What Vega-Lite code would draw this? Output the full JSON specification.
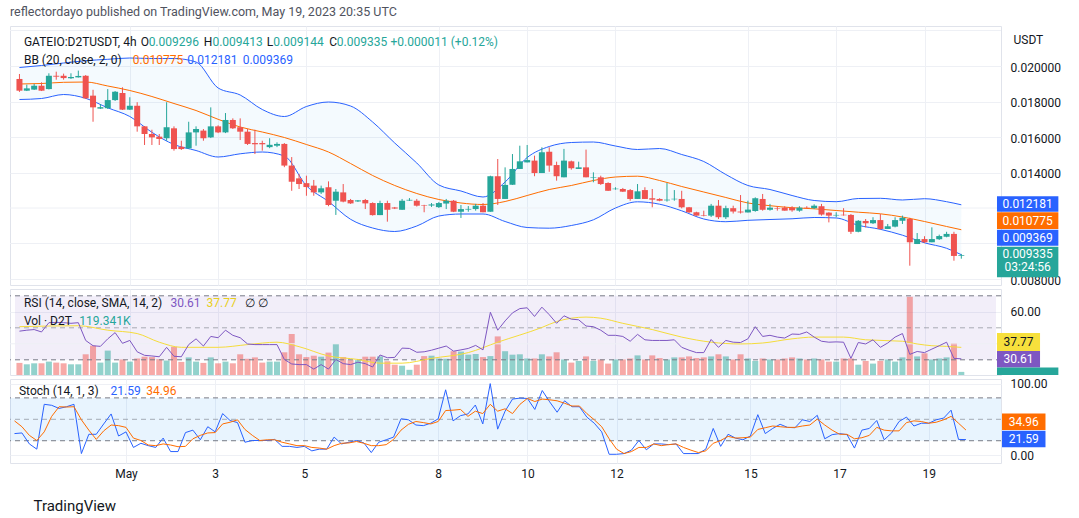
{
  "$schema": "https://vega.github.io/schema/vega-lite/v6.json",
  "padding": {"left": 9, "top": 6, "right": 4, "bottom": 4},
  "title": {"text": "reflectordayo published on TradingView.com, May 19, 2023 20:35 UTC", "anchor": "start", "font": "Roboto", "fontSize": 12.5, "fontWeight": "normal", "color": "#50535e", "offset": 7, "dx": 1},
  "config": {
    "font": "Roboto",
    "view": {"stroke": "#e0e3eb", "strokeWidth": 1},
    "axis": {"domain": false, "ticks": false, "gridColor": "#eef0f5", "labelFont": "Roboto", "labelFontSize": 12, "labelColor": "#131722", "titleFont": "Roboto"},
    "text": {"font": "Roboto", "fontSize": 12}
  },
  "datasets": {
    "one": [{}],
    "candles": [
      {"t":-60,"o":0.01927,"h":0.01955,"l":0.01854,"c":0.01861,"v":466,"rsi":47.9,"k":30,"sd":47.8},
      {"t":-56,"o":0.01861,"h":0.01895,"l":0.01859,"c":0.01874,"v":412,"rsi":48.5,"k":30.9,"sd":39.6},
      {"t":-52,"o":0.01867,"h":0.01899,"l":0.01865,"c":0.01889,"v":450,"rsi":48.9,"k":15.5,"sd":27.5},
      {"t":-48,"o":0.01889,"h":0.01908,"l":0.01859,"c":0.01861,"v":450,"rsi":47.4,"k":8.2,"sd":20.3},
      {"t":-44,"o":0.0187,"h":0.01959,"l":0.01868,"c":0.01945,"v":516,"rsi":53.2,"k":71,"sd":32.4},
      {"t":-40,"o":0.01945,"h":0.01968,"l":0.01923,"c":0.0194,"v":477,"rsi":53.4,"k":69.6,"sd":54.1},
      {"t":-36,"o":0.01945,"h":0.01957,"l":0.01923,"c":0.01932,"v":450,"rsi":53.2,"k":65.2,"sd":67.6},
      {"t":-32,"o":0.01931,"h":0.01959,"l":0.01927,"c":0.01938,"v":412,"rsi":52.8,"k":67.6,"sd":67.2},
      {"t":-28,"o":0.01936,"h":0.01974,"l":0.01935,"c":0.01944,"v":412,"rsi":53.2,"k":71,"sd":67.6},
      {"t":-24,"o":0.01945,"h":0.01949,"l":0.01814,"c":0.01818,"v":797,"rsi":42.1,"k":2,"sd":49.3},
      {"t":-20,"o":0.01833,"h":0.01866,"l":0.01686,"c":0.01767,"v":1128,"rsi":38.8,"k":29,"sd":34.8},
      {"t":-16,"o":0.0176,"h":0.01786,"l":0.01758,"c":0.01768,"v":477,"rsi":38.4,"k":29,"sd":21.8},
      {"t":-12,"o":0.01762,"h":0.0187,"l":0.01758,"c":0.01808,"v":939,"rsi":43.1,"k":43.5,"sd":33.8},
      {"t":-8,"o":0.01808,"h":0.01859,"l":0.01803,"c":0.01855,"v":477,"rsi":47,"k":57.5,"sd":42},
      {"t":-4,"o":0.01848,"h":0.0188,"l":0.01752,"c":0.01754,"v":597,"rsi":40.3,"k":26.6,"sd":41.1},
      {"t":0,"o":0.01754,"h":0.01824,"l":0.01752,"c":0.01776,"v":516,"rsi":42.1,"k":32.4,"sd":38.7},
      {"t":4,"o":0.01776,"h":0.01796,"l":0.0163,"c":0.0166,"v":635,"rsi":35,"k":10.6,"sd":23.7},
      {"t":8,"o":0.0166,"h":0.01662,"l":0.01555,"c":0.01617,"v":705,"rsi":32.8,"k":16.4,"sd":20.3},
      {"t":12,"o":0.01617,"h":0.01641,"l":0.01555,"c":0.01598,"v":689,"rsi":32.4,"k":13.1,"sd":14},
      {"t":16,"o":0.01602,"h":0.01617,"l":0.01555,"c":0.01589,"v":608,"rsi":31.9,"k":10.6,"sd":13.1},
      {"t":20,"o":0.01593,"h":0.01796,"l":0.01579,"c":0.01655,"v":558,"rsi":37.8,"k":23.7,"sd":15.5},
      {"t":24,"o":0.01649,"h":0.0166,"l":0.01523,"c":0.01532,"v":1086,"rsi":32.2,"k":4.8,"sd":14},
      {"t":28,"o":0.01545,"h":0.01579,"l":0.01527,"c":0.01532,"v":504,"rsi":31.9,"k":4.8,"sd":11.6},
      {"t":32,"o":0.01536,"h":0.01686,"l":0.01533,"c":0.01626,"v":678,"rsi":39.5,"k":31.4,"sd":12.1},
      {"t":36,"o":0.01626,"h":0.0166,"l":0.01551,"c":0.01645,"v":516,"rsi":43.1,"k":34.8,"sd":22.7},
      {"t":40,"o":0.01636,"h":0.01645,"l":0.01579,"c":0.01593,"v":466,"rsi":38.6,"k":21.3,"sd":27.5},
      {"t":44,"o":0.01598,"h":0.01767,"l":0.01594,"c":0.0166,"v":678,"rsi":44.6,"k":39.6,"sd":30.9},
      {"t":48,"o":0.0166,"h":0.01666,"l":0.01622,"c":0.01626,"v":450,"rsi":43.8,"k":32.4,"sd":31.4},
      {"t":52,"o":0.01626,"h":0.01735,"l":0.01622,"c":0.01696,"v":516,"rsi":48.5,"k":58,"sd":43.5},
      {"t":56,"o":0.01696,"h":0.01705,"l":0.01645,"c":0.01649,"v":450,"rsi":45.3,"k":48.3,"sd":45.9},
      {"t":60,"o":0.01655,"h":0.01705,"l":0.01583,"c":0.0163,"v":797,"rsi":43.8,"k":45.4,"sd":49.3},
      {"t":64,"o":0.0163,"h":0.01645,"l":0.01555,"c":0.01561,"v":624,"rsi":39.9,"k":17.9,"sd":35.8},
      {"t":68,"o":0.01566,"h":0.01641,"l":0.01504,"c":0.01559,"v":678,"rsi":39.5,"k":20.3,"sd":27.5},
      {"t":72,"o":0.01566,"h":0.01579,"l":0.01523,"c":0.01559,"v":477,"rsi":39.5,"k":20.3,"sd":20.3},
      {"t":76,"o":0.01543,"h":0.01593,"l":0.01537,"c":0.01556,"v":516,"rsi":39.5,"k":20.3,"sd":21.3},
      {"t":80,"o":0.01551,"h":0.0157,"l":0.01543,"c":0.01561,"v":516,"rsi":39.5,"k":21.8,"sd":21.3},
      {"t":84,"o":0.01561,"h":0.01566,"l":0.0143,"c":0.01439,"v":874,"rsi":30.2,"k":12.1,"sd":17.9},
      {"t":88,"o":0.01439,"h":0.01487,"l":0.01297,"c":0.01348,"v":1579,"rsi":27.4,"k":12.1,"sd":15.5},
      {"t":92,"o":0.01367,"h":0.01392,"l":0.01307,"c":0.01335,"v":797,"rsi":27,"k":10.6,"sd":13.1},
      {"t":96,"o":0.0134,"h":0.01382,"l":0.01269,"c":0.01318,"v":689,"rsi":27,"k":12.1,"sd":13.1},
      {"t":100,"o":0.01326,"h":0.01358,"l":0.01269,"c":0.01288,"v":743,"rsi":24.2,"k":5.8,"sd":10.6},
      {"t":104,"o":0.01288,"h":0.01326,"l":0.01279,"c":0.01311,"v":705,"rsi":27,"k":8.2,"sd":9.7},
      {"t":108,"o":0.01317,"h":0.0135,"l":0.0121,"c":0.01217,"v":862,"rsi":24.2,"k":8.2,"sd":8.2},
      {"t":112,"o":0.01241,"h":0.01307,"l":0.01161,"c":0.01292,"v":1194,"rsi":30.2,"k":25.1,"sd":13.1},
      {"t":116,"o":0.01288,"h":0.01335,"l":0.01232,"c":0.01236,"v":689,"rsi":27.6,"k":15.5,"sd":16.4},
      {"t":120,"o":0.01245,"h":0.01251,"l":0.01223,"c":0.01226,"v":570,"rsi":27,"k":17.9,"sd":16.9},
      {"t":124,"o":0.01237,"h":0.01245,"l":0.01234,"c":0.01243,"v":570,"rsi":28.5,"k":20.3,"sd":18.9},
      {"t":128,"o":0.01245,"h":0.01251,"l":0.01194,"c":0.01226,"v":705,"rsi":27.6,"k":16.9,"sd":16.4},
      {"t":132,"o":0.01228,"h":0.01232,"l":0.01157,"c":0.0116,"v":705,"rsi":25.5,"k":3.4,"sd":13.1},
      {"t":136,"o":0.0116,"h":0.01241,"l":0.0116,"c":0.01228,"v":716,"rsi":33,"k":17.9,"sd":13.1},
      {"t":140,"o":0.01228,"h":0.01241,"l":0.01123,"c":0.0119,"v":531,"rsi":31.3,"k":21.3,"sd":14.5},
      {"t":144,"o":0.01203,"h":0.01206,"l":0.01194,"c":0.01197,"v":397,"rsi":31.5,"k":25.1,"sd":21.8},
      {"t":148,"o":0.0119,"h":0.01251,"l":0.0119,"c":0.01241,"v":358,"rsi":37.3,"k":50.7,"sd":34.8},
      {"t":152,"o":0.01242,"h":0.01256,"l":0.0124,"c":0.01246,"v":200,"rsi":37.1,"k":49.3,"sd":43},
      {"t":156,"o":0.01241,"h":0.01251,"l":0.01208,"c":0.01213,"v":397,"rsi":34.7,"k":42,"sd":46.9},
      {"t":160,"o":0.01217,"h":0.01218,"l":0.01176,"c":0.01214,"v":728,"rsi":35,"k":41.1,"sd":45.4},
      {"t":164,"o":0.01214,"h":0.01228,"l":0.01206,"c":0.0122,"v":743,"rsi":36,"k":44.5,"sd":43.5},
      {"t":168,"o":0.01205,"h":0.01234,"l":0.012,"c":0.01228,"v":635,"rsi":37.3,"k":50.7,"sd":46.9},
      {"t":172,"o":0.01225,"h":0.01251,"l":0.01194,"c":0.01241,"v":624,"rsi":38.6,"k":91.3,"sd":62.3},
      {"t":176,"o":0.01241,"h":0.01245,"l":0.01177,"c":0.01179,"v":916,"rsi":35.4,"k":47.8,"sd":62.8},
      {"t":180,"o":0.01179,"h":0.01217,"l":0.01144,"c":0.01194,"v":901,"rsi":36.2,"k":55.1,"sd":63.8},
      {"t":184,"o":0.01191,"h":0.01211,"l":0.01179,"c":0.01195,"v":782,"rsi":37.1,"k":57.5,"sd":54.1},
      {"t":188,"o":0.01194,"h":0.01223,"l":0.01185,"c":0.01213,"v":809,"rsi":39,"k":70,"sd":61.4},
      {"t":192,"o":0.01213,"h":0.01228,"l":0.01176,"c":0.01176,"v":689,"rsi":36.2,"k":43.5,"sd":58},
      {"t":196,"o":0.01179,"h":0.01382,"l":0.01179,"c":0.01379,"v":728,"rsi":59.7,"k":100,"sd":71},
      {"t":200,"o":0.01379,"h":0.01476,"l":0.01217,"c":0.01251,"v":1486,"rsi":48.5,"k":36.2,"sd":61.4},
      {"t":204,"o":0.01251,"h":0.01429,"l":0.01251,"c":0.0133,"v":916,"rsi":54.3,"k":61.4,"sd":64.7},
      {"t":208,"o":0.01331,"h":0.01504,"l":0.0133,"c":0.0142,"v":782,"rsi":59.3,"k":78.3,"sd":58},
      {"t":212,"o":0.0142,"h":0.01551,"l":0.0142,"c":0.01463,"v":797,"rsi":62,"k":79.7,"sd":71},
      {"t":216,"o":0.01457,"h":0.01555,"l":0.01457,"c":0.0147,"v":635,"rsi":62.5,"k":79.2,"sd":79.2},
      {"t":220,"o":0.01467,"h":0.01495,"l":0.01379,"c":0.01397,"v":635,"rsi":57.1,"k":63.8,"sd":74.9},
      {"t":224,"o":0.01397,"h":0.01542,"l":0.01397,"c":0.01514,"v":797,"rsi":62.9,"k":90.3,"sd":78.3},
      {"t":228,"o":0.01517,"h":0.01542,"l":0.01404,"c":0.01439,"v":716,"rsi":58.2,"k":74.4,"sd":77.3},
      {"t":232,"o":0.01442,"h":0.01461,"l":0.01354,"c":0.01379,"v":874,"rsi":52.8,"k":59.9,"sd":75.9},
      {"t":236,"o":0.01373,"h":0.01533,"l":0.01373,"c":0.01467,"v":597,"rsi":57.5,"k":75.9,"sd":72.5},
      {"t":240,"o":0.01463,"h":0.01467,"l":0.01416,"c":0.01424,"v":477,"rsi":55.4,"k":67.6,"sd":68.6},
      {"t":244,"o":0.0142,"h":0.01461,"l":0.0142,"c":0.01429,"v":543,"rsi":55,"k":67.6,"sd":68.6},
      {"t":248,"o":0.01429,"h":0.01529,"l":0.01373,"c":0.01373,"v":716,"rsi":51.1,"k":53.1,"sd":58},
      {"t":252,"o":0.0137,"h":0.01401,"l":0.01345,"c":0.01373,"v":543,"rsi":50.7,"k":44.5,"sd":49.3},
      {"t":256,"o":0.01373,"h":0.01382,"l":0.0133,"c":0.01335,"v":597,"rsi":48.5,"k":32.4,"sd":39.6},
      {"t":260,"o":0.01341,"h":0.01345,"l":0.01296,"c":0.01297,"v":439,"rsi":45.3,"k":1,"sd":22.7},
      {"t":264,"o":0.01306,"h":0.01317,"l":0.01303,"c":0.01309,"v":597,"rsi":45.3,"k":1,"sd":8.2},
      {"t":268,"o":0.01307,"h":0.01313,"l":0.0129,"c":0.01292,"v":597,"rsi":44.6,"k":2,"sd":2},
      {"t":272,"o":0.01301,"h":0.01307,"l":0.01241,"c":0.01251,"v":635,"rsi":41.6,"k":6.8,"sd":4.8},
      {"t":276,"o":0.01251,"h":0.01335,"l":0.01251,"c":0.01294,"v":755,"rsi":45.9,"k":20.3,"sd":10.6},
      {"t":280,"o":0.01301,"h":0.01317,"l":0.01251,"c":0.01251,"v":597,"rsi":42.5,"k":7.3,"sd":10.6},
      {"t":284,"o":0.01255,"h":0.01307,"l":0.01204,"c":0.01247,"v":755,"rsi":42.1,"k":15.5,"sd":15.5},
      {"t":288,"o":0.01251,"h":0.01255,"l":0.01238,"c":0.01241,"v":651,"rsi":42.1,"k":15.5,"sd":13.1},
      {"t":292,"o":0.01243,"h":0.01341,"l":0.01236,"c":0.01247,"v":597,"rsi":42.1,"k":14.5,"sd":14.5},
      {"t":296,"o":0.01249,"h":0.01301,"l":0.01241,"c":0.01252,"v":678,"rsi":42.5,"k":15.5,"sd":15.5},
      {"t":300,"o":0.01251,"h":0.01297,"l":0.01198,"c":0.01204,"v":678,"rsi":37.8,"k":2,"sd":10.6},
      {"t":304,"o":0.01204,"h":0.01206,"l":0.01172,"c":0.01176,"v":716,"rsi":36,"k":2,"sd":6.8},
      {"t":308,"o":0.01176,"h":0.01179,"l":0.01157,"c":0.01157,"v":651,"rsi":34.5,"k":2,"sd":3.4},
      {"t":312,"o":0.01159,"h":0.01185,"l":0.01153,"c":0.01156,"v":678,"rsi":34.5,"k":8.2,"sd":5.8},
      {"t":316,"o":0.01157,"h":0.01223,"l":0.01149,"c":0.01213,"v":716,"rsi":42.7,"k":37.2,"sd":16.4},
      {"t":320,"o":0.01213,"h":0.01245,"l":0.01138,"c":0.01148,"v":797,"rsi":37.8,"k":12.1,"sd":20.3},
      {"t":324,"o":0.01148,"h":0.01213,"l":0.01138,"c":0.01199,"v":716,"rsi":42.1,"k":29,"sd":26.1},
      {"t":328,"o":0.01199,"h":0.01213,"l":0.01169,"c":0.0118,"v":597,"rsi":41,"k":23.7,"sd":23.7},
      {"t":332,"o":0.0118,"h":0.01273,"l":0.01169,"c":0.01175,"v":797,"rsi":40.8,"k":21.3,"sd":24.2},
      {"t":336,"o":0.01175,"h":0.01241,"l":0.01175,"c":0.01191,"v":635,"rsi":43.1,"k":26.6,"sd":25.1},
      {"t":340,"o":0.01183,"h":0.0126,"l":0.01179,"c":0.01255,"v":543,"rsi":50.7,"k":56.5,"sd":35.8},
      {"t":344,"o":0.01251,"h":0.01279,"l":0.01185,"c":0.0119,"v":635,"rsi":44.6,"k":30,"sd":38.2},
      {"t":348,"o":0.0119,"h":0.01223,"l":0.01185,"c":0.01202,"v":597,"rsi":45.3,"k":37.2,"sd":40.6},
      {"t":352,"o":0.012,"h":0.0121,"l":0.01185,"c":0.01197,"v":597,"rsi":44.2,"k":43,"sd":39.6},
      {"t":356,"o":0.01202,"h":0.0121,"l":0.01185,"c":0.01185,"v":635,"rsi":43.6,"k":38.7,"sd":38.7},
      {"t":360,"o":0.01202,"h":0.0121,"l":0.01179,"c":0.01187,"v":678,"rsi":46.1,"k":38.2,"sd":38.7},
      {"t":364,"o":0.01185,"h":0.0121,"l":0.01179,"c":0.01202,"v":635,"rsi":45.9,"k":49.3,"sd":40.6},
      {"t":368,"o":0.01202,"h":0.0121,"l":0.01199,"c":0.01199,"v":597,"rsi":47.4,"k":46.9,"sd":42},
      {"t":372,"o":0.01199,"h":0.01221,"l":0.01194,"c":0.01213,"v":635,"rsi":44.2,"k":55.6,"sd":50.3},
      {"t":376,"o":0.0121,"h":0.01223,"l":0.01157,"c":0.01163,"v":597,"rsi":41.6,"k":22.7,"sd":42},
      {"t":380,"o":0.01174,"h":0.01176,"l":0.01119,"c":0.01157,"v":516,"rsi":41,"k":28.5,"sd":34.8},
      {"t":384,"o":0.01158,"h":0.01176,"l":0.01148,"c":0.01161,"v":516,"rsi":41.2,"k":30,"sd":29},
      {"t":388,"o":0.01162,"h":0.01199,"l":0.01157,"c":0.01159,"v":635,"rsi":41,"k":28.5,"sd":29},
      {"t":392,"o":0.01161,"h":0.01166,"l":0.01054,"c":0.01066,"v":635,"rsi":30.9,"k":9.7,"sd":22.7},
      {"t":396,"o":0.01066,"h":0.01132,"l":0.01063,"c":0.01128,"v":397,"rsi":40.8,"k":34.8,"sd":24.2},
      {"t":400,"o":0.01127,"h":0.01138,"l":0.01091,"c":0.01114,"v":543,"rsi":39.9,"k":37.2,"sd":27.5},
      {"t":404,"o":0.01114,"h":0.01148,"l":0.0111,"c":0.01132,"v":439,"rsi":42.5,"k":48.3,"sd":38.7},
      {"t":408,"o":0.01132,"h":0.01166,"l":0.01077,"c":0.01082,"v":543,"rsi":37.8,"k":21.3,"sd":34.8},
      {"t":412,"o":0.01082,"h":0.0111,"l":0.01082,"c":0.01097,"v":597,"rsi":40.5,"k":30.9,"sd":33.8},
      {"t":416,"o":0.01095,"h":0.01148,"l":0.01091,"c":0.01132,"v":516,"rsi":44.2,"k":46.9,"sd":33.8},
      {"t":420,"o":0.01128,"h":0.01157,"l":0.0111,"c":0.01145,"v":678,"rsi":46.4,"k":53.1,"sd":45.4},
      {"t":424,"o":0.01138,"h":0.01145,"l":0.00875,"c":0.01007,"v":3011,"rsi":33.4,"k":40.6,"sd":47.8},
      {"t":428,"o":0.00997,"h":0.01059,"l":0.00997,"c":0.01025,"v":716,"rsi":35.2,"k":44.5,"sd":46.9},
      {"t":432,"o":0.01025,"h":0.01041,"l":0.01003,"c":0.01007,"v":835,"rsi":34.5,"k":44.5,"sd":44.5},
      {"t":436,"o":0.01007,"h":0.01091,"l":0.01007,"c":0.01025,"v":597,"rsi":36.7,"k":49.3,"sd":45.9},
      {"t":440,"o":0.01024,"h":0.0105,"l":0.0102,"c":0.01042,"v":635,"rsi":38.8,"k":51.7,"sd":49.3},
      {"t":444,"o":0.01038,"h":0.01066,"l":0.01035,"c":0.01054,"v":678,"rsi":41,"k":62.8,"sd":54.1},
      {"t":448,"o":0.01054,"h":0.01066,"l":0.00903,"c":0.0093,"v":1232,"rsi":30.9,"k":21.8,"sd":44.5},
      {"t":452,"o":0.009296,"h":0.009413,"l":0.009144,"c":0.009335,"v":119.341,"rsi":30.61,"k":21.59,"sd":34.96}
    ],
    "bb": [
      {"t":-60,"up":0.019915,"mid":0.018986,"lo":0.018113},
      {"t":-48,"up":0.020028,"mid":0.019014,"lo":0.018169},
      {"t":-36,"up":0.020169,"mid":0.019082,"lo":0.018394},
      {"t":-24,"up":0.020299,"mid":0.019099,"lo":0.01818},
      {"t":-12,"up":0.020378,"mid":0.018873,"lo":0.017645},
      {"t":0,"up":0.020451,"mid":0.01862,"lo":0.017155},
      {"t":12,"up":0.020423,"mid":0.018282,"lo":0.016265},
      {"t":24,"up":0.020423,"mid":0.017887,"lo":0.015577},
      {"t":36,"up":0.020225,"mid":0.017493,"lo":0.015239},
      {"t":48,"up":0.018761,"mid":0.016997,"lo":0.014873},
      {"t":60,"up":0.018366,"mid":0.016563,"lo":0.015054},
      {"t":72,"up":0.017549,"mid":0.016282,"lo":0.015155},
      {"t":84,"up":0.017155,"mid":0.015972,"lo":0.01493},
      {"t":96,"up":0.017718,"mid":0.015577,"lo":0.013256},
      {"t":108,"up":0.017972,"mid":0.015155,"lo":0.012366},
      {"t":120,"up":0.017746,"mid":0.014507,"lo":0.011363},
      {"t":132,"up":0.016845,"mid":0.013831,"lo":0.010873},
      {"t":144,"up":0.015662,"mid":0.013268,"lo":0.010676},
      {"t":156,"up":0.014535,"mid":0.012817,"lo":0.010986},
      {"t":168,"up":0.013296,"mid":0.012479,"lo":0.011549},
      {"t":180,"up":0.012958,"mid":0.012282,"lo":0.011662},
      {"t":192,"up":0.01262,"mid":0.012197,"lo":0.011662},
      {"t":204,"up":0.013465,"mid":0.012366,"lo":0.011239},
      {"t":216,"up":0.014845,"mid":0.012704,"lo":0.010901},
      {"t":228,"up":0.015465,"mid":0.013042,"lo":0.010862},
      {"t":240,"up":0.01569,"mid":0.013268,"lo":0.011014},
      {"t":252,"up":0.015718,"mid":0.013549,"lo":0.011335},
      {"t":264,"up":0.015493,"mid":0.013746,"lo":0.012},
      {"t":276,"up":0.015296,"mid":0.013792,"lo":0.012349},
      {"t":288,"up":0.015352,"mid":0.013549,"lo":0.012214},
      {"t":300,"up":0.015014,"mid":0.013211,"lo":0.011842},
      {"t":312,"up":0.01462,"mid":0.012901,"lo":0.01138},
      {"t":324,"up":0.013887,"mid":0.012592,"lo":0.011228},
      {"t":336,"up":0.013268,"mid":0.012282,"lo":0.011307},
      {"t":348,"up":0.013042,"mid":0.01213,"lo":0.011352},
      {"t":360,"up":0.012704,"mid":0.012017,"lo":0.011392},
      {"t":372,"up":0.012423,"mid":0.011955,"lo":0.011465},
      {"t":384,"up":0.012355,"mid":0.011859,"lo":0.011437},
      {"t":396,"up":0.012535,"mid":0.011763,"lo":0.011025},
      {"t":408,"up":0.012546,"mid":0.011673,"lo":0.0108},
      {"t":420,"up":0.012451,"mid":0.011493,"lo":0.010468},
      {"t":432,"up":0.012524,"mid":0.011239,"lo":0.010039},
      {"t":444,"up":0.012355,"mid":0.010958,"lo":0.00973},
      {"t":452,"up":0.012181,"mid":0.010775,"lo":0.009369}
    ],
    "rsima": [
      {"t":-60,"ma":50.7},{"t":-28,"ma":51.3},{"t":-12,"ma":48.5},{"t":4,"ma":46.4},{"t":16,"ma":41},
      {"t":28,"ma":37.8},{"t":48,"ma":37.8},{"t":64,"ma":39.5},{"t":80,"ma":41},{"t":92,"ma":38.2},
      {"t":108,"ma":32.4},{"t":124,"ma":30.2},{"t":136,"ma":27.9},{"t":148,"ma":27.9},{"t":164,"ma":30.9},
      {"t":184,"ma":34.5},{"t":200,"ma":41},{"t":224,"ma":50.2},{"t":232,"ma":53.9},{"t":248,"ma":56.7},
      {"t":256,"ma":56},{"t":268,"ma":52.8},{"t":284,"ma":48.9},{"t":300,"ma":44.2},{"t":316,"ma":41},
      {"t":332,"ma":39.9},{"t":344,"ma":40.5},{"t":360,"ma":43.1},{"t":372,"ma":44.2},{"t":388,"ma":44.2},
      {"t":400,"ma":42.5},{"t":420,"ma":41.6},{"t":428,"ma":39.9},{"t":436,"ma":38.8},{"t":444,"ma":38.4},
      {"t":452,"ma":37.77}
    ]
  },
  "spacing": 1,
  "vconcat": [
    {
      "width": 991,
      "height": 259,
      "layer": [
        {
          "data": {"name": "bb"},
          "mark": {"type": "area", "color": "#2196f3", "opacity": 0.05, "interpolate": "monotone"},
          "encoding": {
            "x": {"field": "t", "type": "quantitative", "scale": {"domain": [-62.42, 470.86], "nice": false, "zero": false},
                  "axis": {"values": [0, 48, 96, 168, 216, 264, 336, 384, 432], "labels": false, "grid": true, "title": null}},
            "y": {"field": "up", "type": "quantitative", "scale": {"domain": [0.007662, 0.022254], "nice": false, "zero": false},
                  "axis": {"orient": "right", "values": [0.008, 0.014, 0.016, 0.018, 0.02], "format": ".6f",
                           "labelOverlap": "greedy", "labelSeparation": 0, "labelOffset": 1, "grid": true, "labelPadding": 9,
                           "title": "USDT", "titleAngle": 0, "titleX": 12, "titleY": 13, "titleAlign": "left", "titleBaseline": "middle",
                           "titleFontWeight": "normal", "titleFontSize": 12, "titleColor": "#131722"}},
            "y2": {"field": "lo"}
          }
        },
        {"data": {"name": "one"}, "mark": {"type": "rule", "color": "#eef0f5", "strokeWidth": 1}, "encoding": {"y": {"datum": 0.022}}},
        {"data": {"name": "one"}, "mark": {"type": "rule", "color": "#eef0f5", "strokeWidth": 1}, "encoding": {"y": {"datum": 0.012}}},
        {"data": {"name": "one"}, "mark": {"type": "rule", "color": "#eef0f5", "strokeWidth": 1}, "encoding": {"y": {"datum": 0.01}}},
        {"data": {"name": "bb"}, "mark": {"type": "line", "color": "#2962ff", "strokeWidth": 1, "interpolate": "monotone"},
         "encoding": {"x": {"field": "t", "type": "quantitative"}, "y": {"field": "up", "type": "quantitative"}}},
        {"data": {"name": "bb"}, "mark": {"type": "line", "color": "#2962ff", "strokeWidth": 1, "interpolate": "monotone"},
         "encoding": {"x": {"field": "t", "type": "quantitative"}, "y": {"field": "lo", "type": "quantitative"}}},
        {"data": {"name": "bb"}, "mark": {"type": "line", "color": "#ff6d00", "strokeWidth": 1, "interpolate": "monotone"},
         "encoding": {"x": {"field": "t", "type": "quantitative"}, "y": {"field": "mid", "type": "quantitative"}}},
        {"data": {"name": "candles"}, "mark": {"type": "rule", "strokeWidth": 1},
         "encoding": {"x": {"field": "t", "type": "quantitative"}, "y": {"field": "l", "type": "quantitative"}, "y2": {"field": "h"},
                      "color": {"condition": {"test": "datum.c >= datum.o", "value": "#26a69a"}, "value": "#ef5350"}}},
        {"data": {"name": "candles"}, "mark": {"type": "bar", "size": 6, "minBandSize": 1},
         "encoding": {"x": {"field": "t", "type": "quantitative"}, "y": {"field": "o", "type": "quantitative"}, "y2": {"field": "c"},
                      "color": {"condition": {"test": "datum.c >= datum.o", "value": "#26a69a"}, "value": "#ef5350"}}},
        {"data": {"name": "one"}, "mark": {"type": "text", "text": "GATEIO:D2TUSDT, 4h", "align": "left", "baseline": "middle", "color": "#131722"},
         "encoding": {"x": {"datum": -57.58}, "y": {"datum": 0.021352}}},
        {"data": {"name": "one"}, "mark": {"type": "text", "text": "O", "align": "left", "baseline": "middle", "color": "#131722"},
         "encoding": {"x": {"datum": 5.92}, "y": {"datum": 0.021352}}},
        {"data": {"name": "one"}, "mark": {"type": "text", "text": "0.009296", "align": "left", "baseline": "middle", "color": "#26a69a"},
         "encoding": {"x": {"datum": 10.22}, "y": {"datum": 0.021352}}},
        {"data": {"name": "one"}, "mark": {"type": "text", "text": "H", "align": "left", "baseline": "middle", "color": "#131722"},
         "encoding": {"x": {"datum": 40.2}, "y": {"datum": 0.021352}}},
        {"data": {"name": "one"}, "mark": {"type": "text", "text": "0.009413", "align": "left", "baseline": "middle", "color": "#26a69a"},
         "encoding": {"x": {"datum": 44.9}, "y": {"datum": 0.021352}}},
        {"data": {"name": "one"}, "mark": {"type": "text", "text": "L", "align": "left", "baseline": "middle", "color": "#131722"},
         "encoding": {"x": {"datum": 74.48}, "y": {"datum": 0.021352}}},
        {"data": {"name": "one"}, "mark": {"type": "text", "text": "0.009144", "align": "left", "baseline": "middle", "color": "#26a69a"},
         "encoding": {"x": {"datum": 78.03}, "y": {"datum": 0.021352}}},
        {"data": {"name": "one"}, "mark": {"type": "text", "text": "C", "align": "left", "baseline": "middle", "color": "#131722"},
         "encoding": {"x": {"datum": 108.38}, "y": {"datum": 0.021352}}},
        {"data": {"name": "one"}, "mark": {"type": "text", "text": "0.009335", "align": "left", "baseline": "middle", "color": "#26a69a"},
         "encoding": {"x": {"datum": 112.5}, "y": {"datum": 0.021352}}},
        {"data": {"name": "one"}, "mark": {"type": "text", "text": "+0.000011 (+0.12%)", "align": "left", "baseline": "middle", "color": "#26a69a"},
         "encoding": {"x": {"datum": 141.74}, "y": {"datum": 0.021352}}},
        {"data": {"name": "one"}, "mark": {"type": "text", "text": "BB (20, close, 2, 0)", "align": "left", "baseline": "middle", "color": "#131722"},
         "encoding": {"x": {"datum": -57.58}, "y": {"datum": 0.020321}}},
        {"data": {"name": "one"}, "mark": {"type": "text", "text": "0.010775", "align": "left", "baseline": "middle", "color": "#ff6d00"},
         "encoding": {"x": {"datum": 1.61}, "y": {"datum": 0.020321}}},
        {"data": {"name": "one"}, "mark": {"type": "text", "text": "0.012181", "align": "left", "baseline": "middle", "color": "#2962ff"},
         "encoding": {"x": {"datum": 31.21}, "y": {"datum": 0.020321}}},
        {"data": {"name": "one"}, "mark": {"type": "text", "text": "0.009369", "align": "left", "baseline": "middle", "color": "#2962ff"},
         "encoding": {"x": {"datum": 61.35}, "y": {"datum": 0.020321}}},
        {"data": {"name": "one"}, "mark": {"type": "rect", "color": "#2962ff", "clip": false},
         "encoding": {"x": {"datum": 471.4}, "x2": {"datum": 504.76}, "y": {"datum": 0.012659}, "y2": {"datum": 0.011792}}},
        {"data": {"name": "one"}, "mark": {"type": "rect", "color": "#ff6d00", "clip": false},
         "encoding": {"x": {"datum": 471.4}, "x2": {"datum": 504.76}, "y": {"datum": 0.011758}, "y2": {"datum": 0.010817}}},
        {"data": {"name": "one"}, "mark": {"type": "rect", "color": "#2962ff", "clip": false},
         "encoding": {"x": {"datum": 471.4}, "x2": {"datum": 504.76}, "y": {"datum": 0.010777}, "y2": {"datum": 0.009876}}},
        {"data": {"name": "one"}, "mark": {"type": "rect", "color": "#26a69a", "clip": false},
         "encoding": {"x": {"datum": 471.4}, "x2": {"datum": 504.76}, "y": {"datum": 0.00982}, "y2": {"datum": 0.008096}}},
        {"data": {"name": "one"}, "mark": {"type": "text", "text": "0.012181", "align": "center", "baseline": "middle", "color": "white", "clip": false},
         "encoding": {"x": {"datum": 488.07}, "y": {"datum": 0.012225}}},
        {"data": {"name": "one"}, "mark": {"type": "text", "text": "0.010775", "align": "center", "baseline": "middle", "color": "white", "clip": false},
         "encoding": {"x": {"datum": 488.07}, "y": {"datum": 0.011285}}},
        {"data": {"name": "one"}, "mark": {"type": "text", "text": "0.009369", "align": "center", "baseline": "middle", "color": "white", "clip": false},
         "encoding": {"x": {"datum": 488.07}, "y": {"datum": 0.010327}}},
        {"data": {"name": "one"}, "mark": {"type": "text", "text": "0.009335", "align": "center", "baseline": "middle", "color": "white", "clip": false},
         "encoding": {"x": {"datum": 488.07}, "y": {"datum": 0.009408}}},
        {"data": {"name": "one"}, "mark": {"type": "text", "text": "03:24:56", "align": "center", "baseline": "middle", "color": "white", "clip": false},
         "encoding": {"x": {"datum": 488.07}, "y": {"datum": 0.008704}}}
      ]
    },
    {
      "width": 991,
      "height": 86,
      "resolve": {"scale": {"y": "independent"}},
      "layer": [
        {"data": {"name": "one"}, "mark": {"type": "rect", "color": "#7e57c2", "opacity": 0.1},
         "encoding": {
           "x": {"datum": -62.42, "type": "quantitative", "scale": {"domain": [-62.42, 470.86], "nice": false, "zero": false},
                 "axis": {"values": [0, 48, 96, 168, 216, 264, 336, 384, 432], "labels": false, "grid": true, "title": null}},
           "x2": {"datum": 470.86},
           "y": {"datum": 70, "type": "quantitative", "scale": {"domain": [20.5, 74.25], "nice": false, "zero": false}, "axis": null},
           "y2": {"datum": 30}}},
        {"data": {"name": "candles"}, "mark": {"type": "bar", "size": 6, "opacity": 0.5},
         "encoding": {"x": {"field": "t", "type": "quantitative"},
                      "y": {"field": "v", "type": "quantitative", "scale": {"domain": [0, 3311], "nice": false}, "axis": null},
                      "color": {"condition": {"test": "datum.c >= datum.o", "value": "#26a69a"}, "value": "#ef5350"}}},
        {
          "layer": [
            {"data": {"name": "one"}, "mark": {"type": "rule", "color": "#787b86", "strokeDash": [5, 4], "strokeWidth": 1},
             "encoding": {"y": {"datum": 70, "type": "quantitative", "scale": {"domain": [20.5, 74.25], "nice": false, "zero": false},
                                "axis": {"orient": "right", "values": [60], "format": ".2f", "grid": true, "labelPadding": 9, "title": null}}}},
            {"data": {"name": "one"}, "mark": {"type": "rule", "color": "#eef0f5", "strokeWidth": 1}, "encoding": {"y": {"datum": 40}}},
            {"data": {"name": "one"}, "mark": {"type": "rule", "color": "#787b86", "strokeDash": [5, 4], "strokeWidth": 1, "opacity": 0.6},
             "encoding": {"y": {"datum": 50}}},
            {"data": {"name": "one"}, "mark": {"type": "rule", "color": "#787b86", "strokeDash": [5, 4], "strokeWidth": 1},
             "encoding": {"y": {"datum": 30}}},
            {"data": {"name": "rsima"}, "mark": {"type": "line", "color": "#f5dc3a", "strokeWidth": 1, "interpolate": "monotone"},
             "encoding": {"x": {"field": "t", "type": "quantitative"}, "y": {"field": "ma", "type": "quantitative"}}},
            {"data": {"name": "candles"}, "mark": {"type": "line", "color": "#7e57c2", "strokeWidth": 1},
             "encoding": {"x": {"field": "t", "type": "quantitative"}, "y": {"field": "rsi", "type": "quantitative"}}},
            {"data": {"name": "one"}, "mark": {"type": "text", "text": "RSI (14, close, SMA, 14, 2)", "align": "left", "baseline": "middle", "color": "#131722"},
             "encoding": {"x": {"datum": -57.58}, "y": {"datum": 65.7}}},
            {"data": {"name": "one"}, "mark": {"type": "text", "text": "30.61", "align": "left", "baseline": "middle", "color": "#7e57c2"},
             "encoding": {"x": {"datum": 22.06}, "y": {"datum": 65.7}}},
            {"data": {"name": "one"}, "mark": {"type": "text", "text": "37.77", "align": "left", "baseline": "middle", "color": "#e8cf1c"},
             "encoding": {"x": {"datum": 41.7}, "y": {"datum": 65.7}}},
            {"data": {"name": "one"}, "mark": {"type": "text", "text": "∅  ∅", "align": "left", "baseline": "middle", "color": "#131722"},
             "encoding": {"x": {"datum": 62.42}, "y": {"datum": 65.7}}},
            {"data": {"name": "one"}, "mark": {"type": "text", "text": "Vol · D2T", "align": "left", "baseline": "middle", "color": "#131722"},
             "encoding": {"x": {"datum": -57.58}, "y": {"datum": 54.5}}},
            {"data": {"name": "one"}, "mark": {"type": "text", "text": "119.341K", "align": "left", "baseline": "middle", "color": "#26a69a"},
             "encoding": {"x": {"datum": -27.44}, "y": {"datum": 54.5}}},
            {"data": {"name": "one"}, "mark": {"type": "rect", "color": "#f7e03c", "clip": false},
             "encoding": {"x": {"datum": 471.4}, "x2": {"datum": 494.8}, "y": {"datum": 46.75}, "y2": {"datum": 35.56}}},
            {"data": {"name": "one"}, "mark": {"type": "rect", "color": "#7e57c2", "clip": false},
             "encoding": {"x": {"datum": 471.4}, "x2": {"datum": 494.8}, "y": {"datum": 35.56}, "y2": {"datum": 25.25}}},
            {"data": {"name": "one"}, "mark": {"type": "rect", "color": "#26a69a", "clip": false},
             "encoding": {"x": {"datum": 471.4}, "x2": {"datum": 504.76}, "y": {"datum": 25.25}, "y2": {"datum": 20.5}}},
            {"data": {"name": "one"}, "mark": {"type": "text", "text": "37.77", "align": "center", "baseline": "middle", "color": "#131722", "clip": false},
             "encoding": {"x": {"datum": 483.1}, "y": {"datum": 41.1}}},
            {"data": {"name": "one"}, "mark": {"type": "text", "text": "30.61", "align": "center", "baseline": "middle", "color": "white", "clip": false},
             "encoding": {"x": {"datum": 483.1}, "y": {"datum": 30.5}}}
          ]
        }
      ]
    },
    {
      "width": 991,
      "height": 84,
      "layer": [
        {"data": {"name": "one"}, "mark": {"type": "rect", "color": "#2196f3", "opacity": 0.1},
         "encoding": {
           "x": {"datum": -62.42, "type": "quantitative", "scale": {"domain": [-62.42, 470.86], "nice": false, "zero": false},
                 "axis": {"values": [0, 48, 96, 168, 216, 264, 336, 384, 432], "grid": true, "labelPadding": 5,
                          "labelExpr": "datum.value == 0 ? 'May' : '' + (datum.value / 24 + 1)",
                          "title": "TradingView", "titleX": 23, "titleY": 42, "titleAlign": "left", "titleBaseline": "middle",
                          "titleFontSize": 15, "titleFontWeight": "normal", "titleColor": "#131722"}},
           "x2": {"datum": 470.86},
           "y": {"datum": 80, "type": "quantitative", "scale": {"domain": [-11.2, 106.44], "nice": false, "zero": false},
                 "axis": {"orient": "right", "values": [0, 100], "format": ".2f", "labelOverlap": "greedy", "grid": true, "labelPadding": 9, "title": null}},
           "y2": {"datum": 20}}},
        {"data": {"name": "one"}, "mark": {"type": "rule", "color": "#787b86", "strokeDash": [5, 4], "strokeWidth": 1},
         "encoding": {"y": {"datum": 80}}},
        {"data": {"name": "one"}, "mark": {"type": "rule", "color": "#787b86", "strokeDash": [5, 4], "strokeWidth": 1, "opacity": 0.6},
         "encoding": {"y": {"datum": 50}}},
        {"data": {"name": "one"}, "mark": {"type": "rule", "color": "#787b86", "strokeDash": [5, 4], "strokeWidth": 1},
         "encoding": {"y": {"datum": 20}}},
        {"data": {"name": "candles"}, "mark": {"type": "line", "color": "#2962ff", "strokeWidth": 1},
         "encoding": {"x": {"field": "t", "type": "quantitative"}, "y": {"field": "k", "type": "quantitative"}}},
        {"data": {"name": "candles"}, "mark": {"type": "line", "color": "#ff6d00", "strokeWidth": 1},
         "encoding": {"x": {"field": "t", "type": "quantitative"}, "y": {"field": "sd", "type": "quantitative"}}},
        {"data": {"name": "one"}, "mark": {"type": "text", "text": "Stoch (14, 1, 3)", "align": "left", "baseline": "middle", "color": "#131722"},
         "encoding": {"x": {"datum": -57.58}, "y": {"datum": 90.3}}},
        {"data": {"name": "one"}, "mark": {"type": "text", "text": "21.59", "align": "left", "baseline": "middle", "color": "#2962ff"},
         "encoding": {"x": {"datum": -8.34}, "y": {"datum": 90.3}}},
        {"data": {"name": "one"}, "mark": {"type": "text", "text": "34.96", "align": "left", "baseline": "middle", "color": "#ff6d00"},
         "encoding": {"x": {"datum": 10.92}, "y": {"datum": 90.3}}},
        {"data": {"name": "one"}, "mark": {"type": "rect", "color": "#ff6d00", "clip": false},
         "encoding": {"x": {"datum": 471.4}, "x2": {"datum": 494.8}, "y": {"datum": 58}, "y2": {"datum": 34.9}}},
        {"data": {"name": "one"}, "mark": {"type": "rect", "color": "#2962ff", "clip": false},
         "encoding": {"x": {"datum": 471.4}, "x2": {"datum": 494.8}, "y": {"datum": 33.9}, "y2": {"datum": 10.8}}},
        {"data": {"name": "one"}, "mark": {"type": "text", "text": "34.96", "align": "center", "baseline": "middle", "color": "white", "clip": false},
         "encoding": {"x": {"datum": 483.1}, "y": {"datum": 46.2}}},
        {"data": {"name": "one"}, "mark": {"type": "text", "text": "21.59", "align": "center", "baseline": "middle", "color": "white", "clip": false},
         "encoding": {"x": {"datum": 483.1}, "y": {"datum": 22.4}}}
      ]
    }
  ]
}
